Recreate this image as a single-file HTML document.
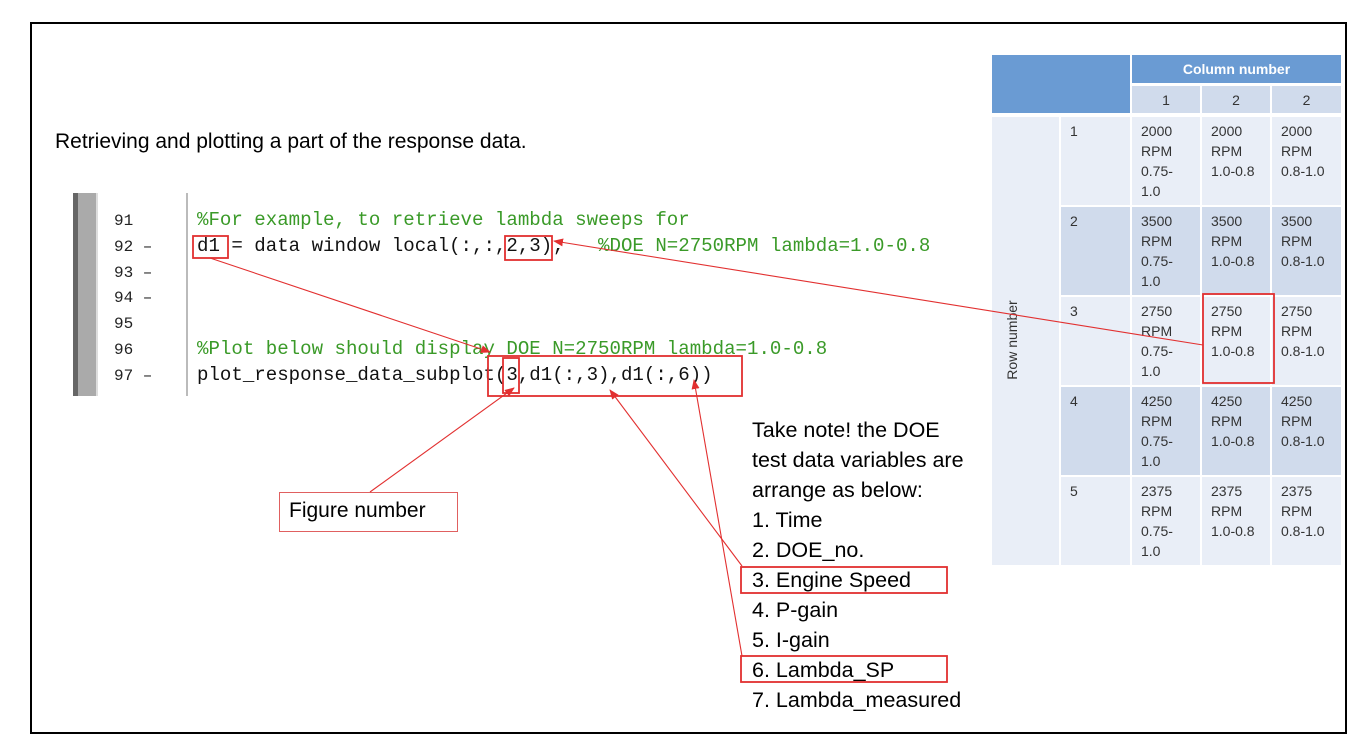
<!DOCTYPE html>
<html><head><meta charset="utf-8"><style>
body{margin:0;width:1370px;height:754px;background:#fff;position:relative;overflow:hidden;font-family:"Liberation Sans",sans-serif}
.a{position:absolute}
.frame{left:30px;top:22px;width:1317px;height:712px;border:2px solid #000;box-sizing:border-box}
.code{font-family:"Liberation Mono",monospace;font-size:19.1px;white-space:pre;color:#111}
.cm{color:#3a9a28}
.ln{font-family:"Liberation Mono",monospace;font-size:16px;color:#222;white-space:pre}
.note{font-size:21.5px;color:#000;line-height:30px;left:752px;top:415px}
.cell{position:absolute;font-size:14px;line-height:20px;color:#333;padding:4px 0 0 9px;box-sizing:border-box}
.l{background:#e9eef7}.d{background:#d0dbec}
</style></head><body>
<div class="a frame"></div>
<div class="a" style="left:55px;top:130px;font-size:21px">Retrieving and plotting a part of the response data.</div>

<div class="a" style="left:73px;top:193px;width:5px;height:203px;background:#666"></div>
<div class="a" style="left:78px;top:193px;width:18px;height:203px;background:#aaa"></div>
<div class="a" style="left:96px;top:193px;width:2px;height:203px;background:#ddd"></div>
<div class="a" style="left:186px;top:193px;width:2px;height:203px;background:#bbb"></div>
<div class="a ln" style="left:114px;top:209px;line-height:25.8px">91
92 –
93 –
94 –
95
96
97 –</div>
<div class="a code" style="left:197px;top:208px;line-height:25.8px"><span class="cm">%For example, to retrieve lambda sweeps for</span>
d1 = data window local(:,:,2,3);   <span class="cm">%DOE N=2750RPM lambda=1.0-0.8</span>



<span class="cm">%Plot below should display DOE N=2750RPM lambda=1.0-0.8</span>
plot_response_data_subplot(3,d1(:,3),d1(:,6))</div>

<div class="a note">Take note! the DOE<br>test data variables are<br>arrange as below:<br>1. Time<br>2. DOE_no.<br>3. Engine Speed<br>4. P-gain<br>5. I-gain<br>6. Lambda_SP<br>7. Lambda_measured</div>

<div class="a" style="left:279px;top:492px;width:179px;height:40px;border:1.5px solid #e06060;box-sizing:border-box;font-size:21px;padding:6px 0 0 9px">Figure number</div>

<div class="a" style="left:992px;top:55px;width:138px;height:58px;background:#6a9bd3"></div>
<div class="a" style="left:1132px;top:55px;width:209px;height:28px;background:#6a9bd3;color:#fff;font-weight:bold;font-size:14px;text-align:center;line-height:28px">Column number</div>
<div class="cell d" style="left:1132px;top:86px;width:68px;height:27px;text-align:center;padding:4px 0 0">1</div>
<div class="cell d" style="left:1202px;top:86px;width:68px;height:27px;text-align:center;padding:4px 0 0">2</div>
<div class="cell d" style="left:1272px;top:86px;width:69px;height:27px;text-align:center;padding:4px 0 0">2</div>
<div class="cell l" style="left:992px;top:117px;width:67px;height:448px;padding:0"></div>
<div class="a" style="left:1012px;top:340px;transform:translate(-50%,-50%) rotate(-90deg);font-size:14px;color:#333;white-space:nowrap">Row number</div>

<div class="cell l" style="left:1061px;top:117px;width:69px;height:88px">1</div>
<div class="cell l" style="left:1132px;top:117px;width:68px;height:88px">2000<br>RPM<br>0.75-<br>1.0</div>
<div class="cell l" style="left:1202px;top:117px;width:68px;height:88px">2000<br>RPM<br>1.0-0.8</div>
<div class="cell l" style="left:1272px;top:117px;width:69px;height:88px">2000<br>RPM<br>0.8-1.0</div>

<div class="cell d" style="left:1061px;top:207px;width:69px;height:88px">2</div>
<div class="cell d" style="left:1132px;top:207px;width:68px;height:88px">3500<br>RPM<br>0.75-<br>1.0</div>
<div class="cell d" style="left:1202px;top:207px;width:68px;height:88px">3500<br>RPM<br>1.0-0.8</div>
<div class="cell d" style="left:1272px;top:207px;width:69px;height:88px">3500<br>RPM<br>0.8-1.0</div>

<div class="cell l" style="left:1061px;top:297px;width:69px;height:88px">3</div>
<div class="cell l" style="left:1132px;top:297px;width:68px;height:88px">2750<br>RPM<br>0.75-<br>1.0</div>
<div class="cell l" style="left:1202px;top:297px;width:68px;height:88px">2750<br>RPM<br>1.0-0.8</div>
<div class="cell l" style="left:1272px;top:297px;width:69px;height:88px">2750<br>RPM<br>0.8-1.0</div>

<div class="cell d" style="left:1061px;top:387px;width:69px;height:88px">4</div>
<div class="cell d" style="left:1132px;top:387px;width:68px;height:88px">4250<br>RPM<br>0.75-<br>1.0</div>
<div class="cell d" style="left:1202px;top:387px;width:68px;height:88px">4250<br>RPM<br>1.0-0.8</div>
<div class="cell d" style="left:1272px;top:387px;width:69px;height:88px">4250<br>RPM<br>0.8-1.0</div>

<div class="cell l" style="left:1061px;top:477px;width:69px;height:88px">5</div>
<div class="cell l" style="left:1132px;top:477px;width:68px;height:88px">2375<br>RPM<br>0.75-<br>1.0</div>
<div class="cell l" style="left:1202px;top:477px;width:68px;height:88px">2375<br>RPM<br>1.0-0.8</div>
<div class="cell l" style="left:1272px;top:477px;width:69px;height:88px">2375<br>RPM<br>0.8-1.0</div>

<svg class="a" style="left:0;top:0" width="1370" height="754">
<defs><marker id="ah" markerWidth="10" markerHeight="8" refX="9" refY="4" orient="auto" markerUnits="userSpaceOnUse"><path d="M0,0L10,4L0,8z" fill="#e23030"/></marker></defs>
<g fill="none" stroke="#e23030" stroke-width="1.8">
<rect x="193" y="236" width="35" height="22"/>
<rect x="505" y="236" width="47" height="24"/>
<rect x="488" y="356" width="254" height="40"/>
<rect x="503" y="358" width="16" height="35"/>
<rect x="1203" y="294" width="71" height="89"/>
<rect x="741" y="567" width="206" height="26"/>
<rect x="741" y="656" width="206" height="26"/>
</g>
<g stroke="#e23030" stroke-width="1.1" fill="none">
<line x1="210" y1="258" x2="490" y2="352" marker-end="url(#ah)"/>
<line x1="1203" y1="345" x2="554" y2="241" marker-end="url(#ah)"/>
<line x1="370" y1="492" x2="514" y2="388" marker-end="url(#ah)"/>
<line x1="742" y1="566" x2="610" y2="390" marker-end="url(#ah)"/>
<line x1="742" y1="656" x2="694" y2="380" marker-end="url(#ah)"/>
</g>
</svg>
</body></html>
